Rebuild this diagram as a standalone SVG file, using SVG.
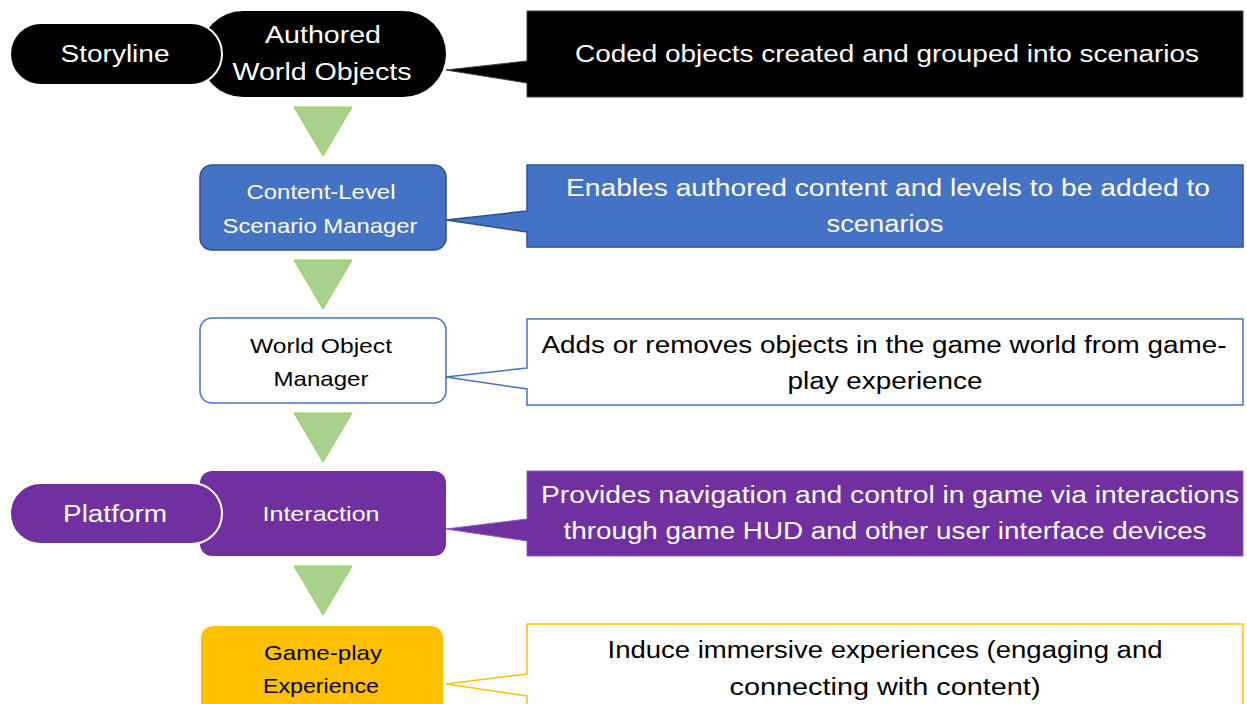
<svg xmlns="http://www.w3.org/2000/svg" width="1247" height="704" viewBox="0 0 1247 704">
<style>
text{font-family:"Liberation Sans",Arial,sans-serif;text-anchor:middle}
.big{font-size:23px}
.sm{font-size:21px}
.w{fill:#ffffff}
.k{fill:#000000}
.tri{fill:#a9d18e;stroke:#92d050;stroke-width:1}
</style>
<rect width="1247" height="704" fill="#ffffff"/>
<g id="connectors">
<polygon class="tri" points="294,107 352,107 323,156"/>
<polygon class="tri" points="294,260 352,260 323,309"/>
<polygon class="tri" points="294,413 352,413 323,462"/>
<polygon class="tri" points="294,566 352,566 323,615"/>
</g>
<g id="authored">
<rect x="200" y="11" width="246" height="86" rx="43" fill="#000000"/>
<text class="big w" x="323" y="43" textLength="116" lengthAdjust="spacingAndGlyphs">Authored</text>
<text class="big w" x="322" y="80" textLength="179" lengthAdjust="spacingAndGlyphs">World Objects</text>
</g>
<g id="storyline">
<rect x="10" y="23" width="212" height="62" rx="31" fill="#000000" stroke="#ffffff" stroke-width="2"/>
<text class="big w" x="115" y="62" textLength="109" lengthAdjust="spacingAndGlyphs">Storyline</text>
</g>
<g id="callout1">
<path d="M527,11 H1243 V97 H527 V83 L446,70 L527,61 Z" fill="#000000" stroke="#404040" stroke-width="1"/>
<text class="big w" x="887" y="62" textLength="624" lengthAdjust="spacingAndGlyphs">Coded objects created and grouped into scenarios</text>
</g>
<g id="scenario-manager">
<rect x="200" y="165" width="246" height="85" rx="12" fill="#4472c4" stroke="#2f528f" stroke-width="1.5"/>
<text class="sm w" x="321" y="199" textLength="149" lengthAdjust="spacingAndGlyphs">Content-Level</text>
<text class="sm w" x="320" y="233" textLength="195" lengthAdjust="spacingAndGlyphs">Scenario Manager</text>
</g>
<g id="callout2">
<path d="M527,165 H1243 V247 H527 V232 L446,220 L527,211 Z" fill="#4472c4" stroke="#2f528f" stroke-width="1.5"/>
<text class="big w" x="888" y="196" textLength="644" lengthAdjust="spacingAndGlyphs">Enables authored content and levels to be added to</text>
<text class="big w" x="885" y="232" textLength="117" lengthAdjust="spacingAndGlyphs">scenarios</text>
</g>
<g id="world-object-manager">
<rect x="200" y="318" width="246" height="85" rx="12" fill="#ffffff" stroke="#4472c4" stroke-width="1.5"/>
<text class="sm k" x="321" y="353" textLength="142" lengthAdjust="spacingAndGlyphs">World Object</text>
<text class="sm k" x="321" y="386" textLength="95" lengthAdjust="spacingAndGlyphs">Manager</text>
</g>
<g id="callout3">
<path d="M527,319 H1243 V405 H527 V389 L446,377 L527,368 Z" fill="#ffffff" stroke="#4472c4" stroke-width="1.5"/>
<text class="big k" x="884" y="353" textLength="685" lengthAdjust="spacingAndGlyphs">Adds or removes objects in the game world from game-</text>
<text class="big k" x="885" y="389" textLength="195" lengthAdjust="spacingAndGlyphs">play experience</text>
</g>
<g id="interaction">
<rect x="200" y="471" width="246" height="85" rx="12" fill="#7030a0"/>
<text class="sm w" x="321" y="521" textLength="117" lengthAdjust="spacingAndGlyphs">Interaction</text>
</g>
<g id="platform">
<rect x="10" y="483" width="212" height="61" rx="30.5" fill="#7030a0" stroke="#ffffff" stroke-width="2"/>
<text class="big w" x="115" y="522" textLength="104" lengthAdjust="spacingAndGlyphs">Platform</text>
</g>
<g id="callout4">
<path d="M527,471 H1243 V556 H527 V541 L446,529 L527,519 Z" fill="#7030a0" stroke="#8e5cb8" stroke-width="1"/>
<text class="big w" x="890" y="503" textLength="698" lengthAdjust="spacingAndGlyphs">Provides navigation and control in game via interactions</text>
<text class="big w" x="885" y="539" textLength="643" lengthAdjust="spacingAndGlyphs">through game HUD and other user interface devices</text>
</g>
<g id="gameplay">
<rect x="201" y="626" width="242" height="90" rx="12" fill="#ffc000"/>
<text class="sm k" x="323" y="660" textLength="118" lengthAdjust="spacingAndGlyphs">Game-play</text>
<text class="sm k" x="321" y="693" textLength="116" lengthAdjust="spacingAndGlyphs">Experience</text>
</g>
<g id="callout5">
<path d="M527,624 H1243 V712 H527 V696 L446,684 L527,674 Z" fill="#ffffff" stroke="#ffc000" stroke-width="1.5"/>
<text class="big k" x="885" y="658" textLength="555" lengthAdjust="spacingAndGlyphs">Induce immersive experiences (engaging and</text>
<text class="big k" x="885" y="695" textLength="311" lengthAdjust="spacingAndGlyphs">connecting with content)</text>
</g>
</svg>
